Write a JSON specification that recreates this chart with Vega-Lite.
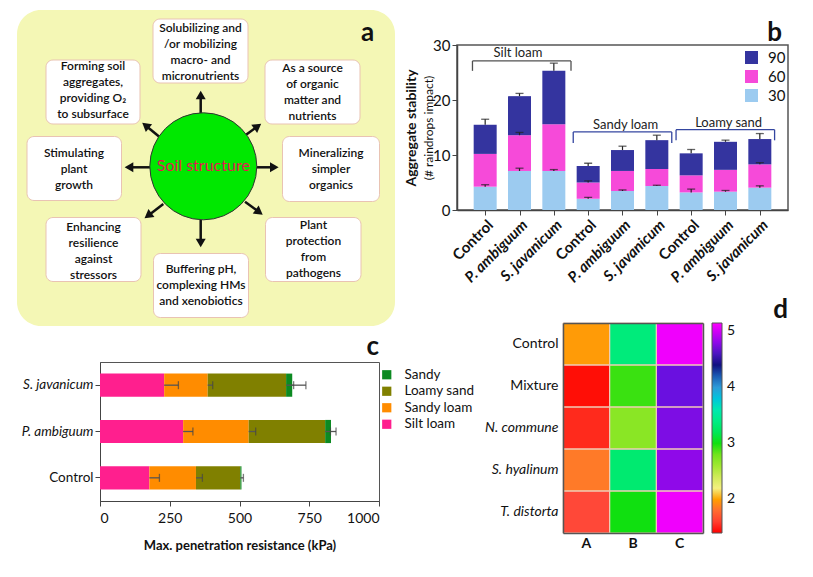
{
  "$schema": "https://vega.github.io/schema/vega-lite/v6.json",
  "background": "white",
  "padding": {"left": 17, "top": 10, "right": 2, "bottom": 2},
  "autosize": {"type": "pad"},
  "config": {
    "font": "Lato",
    "view": {"stroke": null},
    "axis": {"labelColor": "#111", "titleColor": "#111", "domainColor": "#444", "tickColor": "#444", "grid": false},
    "legend": {"labelColor": "#111"}
  },
  "datasets": {
    "apanel": [{"x": 1, "x2": 379, "y": 1, "y2": 317}],
    "aboxes": [
      {"x": 137, "x2": 232, "y": 10, "y2": 74},
      {"x": 30, "x2": 124, "y": 51, "y2": 115},
      {"x": 249, "x2": 344, "y": 51, "y2": 115},
      {"x": 11, "x2": 105.5, "y": 127.5, "y2": 191.5},
      {"x": 266.5, "x2": 363.5, "y": 127.5, "y2": 192.5},
      {"x": 30, "x2": 125, "y": 208.5, "y2": 272.5},
      {"x": 137.5, "x2": 232.5, "y": 244.5, "y2": 308.5},
      {"x": 249.5, "x2": 345, "y": 208.5, "y2": 272.5}
    ],
    "atext": [
      {"x": 184.5, "y": 19.3, "t": "Solubilizing and\n/or mobilizing\nmacro- and\nmicronutrients"},
      {"x": 77, "y": 57, "t": "Forming soil\naggregates,\nproviding O₂\nto subsurface"},
      {"x": 296.5, "y": 59.3, "t": "As a source\nof organic\nmatter and\nnutrients"},
      {"x": 58, "y": 144.3, "t": "Stimulating\nplant\ngrowth"},
      {"x": 315, "y": 143.7, "t": "Mineralizing\nsimpler\norganics"},
      {"x": 77.5, "y": 217.7, "t": "Enhancing\nresilience\nagainst\nstressors"},
      {"x": 185, "y": 260.3, "t": "Buffering pH,\ncomplexing HMs\nand xenobiotics"},
      {"x": 297.5, "y": 216.3, "t": "Plant\nprotection\nfrom\npathogens"}
    ],
    "aarrows": [
      {"x": 184.7, "y": 104, "x2": 184.7, "y2": 86, "ang": 0},
      {"x": 184.7, "y": 211, "x2": 184.7, "y2": 234, "ang": 180},
      {"x": 134, "y": 158.3, "x2": 113, "y2": 158.3, "ang": 270},
      {"x": 240.7, "y": 158.3, "x2": 258.3, "y2": 158.3, "ang": 90},
      {"x": 143.3, "y": 127.7, "x2": 129.6, "y2": 116.5, "ang": 309},
      {"x": 229.7, "y": 126, "x2": 241.7, "y2": 117.3, "ang": 54},
      {"x": 147.3, "y": 195, "x2": 132, "y2": 206.7, "ang": 233},
      {"x": 229, "y": 192.7, "x2": 243.2, "y2": 203.1, "ang": 126}
    ],
    "acircle": [{"x": 187.3, "y": 157.3, "t": "Soil structure"}],
    "aletter": [{"x": 351.5, "y": 32, "t": "a"}],
    "bseg": [
      {"idx": 0, "soil": "Silt loam", "trt": "Control", "t": "30", "lo": 0, "hi": 4.24},
      {"idx": 0, "soil": "Silt loam", "trt": "Control", "t": "60", "lo": 4.24, "hi": 10.2},
      {"idx": 0, "soil": "Silt loam", "trt": "Control", "t": "90", "lo": 10.2, "hi": 15.5},
      {"idx": 1, "soil": "Silt loam", "trt": "P. ambiguum", "t": "30", "lo": 0, "hi": 7.1},
      {"idx": 1, "soil": "Silt loam", "trt": "P. ambiguum", "t": "60", "lo": 7.1, "hi": 13.6},
      {"idx": 1, "soil": "Silt loam", "trt": "P. ambiguum", "t": "90", "lo": 13.6, "hi": 20.7},
      {"idx": 2, "soil": "Silt loam", "trt": "S. javanicum", "t": "30", "lo": 0, "hi": 7.1},
      {"idx": 2, "soil": "Silt loam", "trt": "S. javanicum", "t": "60", "lo": 7.1, "hi": 15.6},
      {"idx": 2, "soil": "Silt loam", "trt": "S. javanicum", "t": "90", "lo": 15.6, "hi": 25.3},
      {"idx": 3, "soil": "Sandy loam", "trt": "Control", "t": "30", "lo": 0, "hi": 2.06},
      {"idx": 3, "soil": "Sandy loam", "trt": "Control", "t": "60", "lo": 2.06, "hi": 5.0},
      {"idx": 3, "soil": "Sandy loam", "trt": "Control", "t": "90", "lo": 5.0, "hi": 8.0},
      {"idx": 4, "soil": "Sandy loam", "trt": "P. ambiguum", "t": "30", "lo": 0, "hi": 3.45},
      {"idx": 4, "soil": "Sandy loam", "trt": "P. ambiguum", "t": "60", "lo": 3.45, "hi": 7.1},
      {"idx": 4, "soil": "Sandy loam", "trt": "P. ambiguum", "t": "90", "lo": 7.1, "hi": 10.9},
      {"idx": 5, "soil": "Sandy loam", "trt": "S. javanicum", "t": "30", "lo": 0, "hi": 4.36},
      {"idx": 5, "soil": "Sandy loam", "trt": "S. javanicum", "t": "60", "lo": 4.36, "hi": 7.45},
      {"idx": 5, "soil": "Sandy loam", "trt": "S. javanicum", "t": "90", "lo": 7.45, "hi": 12.7},
      {"idx": 6, "soil": "Loamy sand", "trt": "Control", "t": "30", "lo": 0, "hi": 3.2},
      {"idx": 6, "soil": "Loamy sand", "trt": "Control", "t": "60", "lo": 3.2, "hi": 6.3},
      {"idx": 6, "soil": "Loamy sand", "trt": "Control", "t": "90", "lo": 6.3, "hi": 10.3},
      {"idx": 7, "soil": "Loamy sand", "trt": "P. ambiguum", "t": "30", "lo": 0, "hi": 3.33},
      {"idx": 7, "soil": "Loamy sand", "trt": "P. ambiguum", "t": "60", "lo": 3.33, "hi": 7.3},
      {"idx": 7, "soil": "Loamy sand", "trt": "P. ambiguum", "t": "90", "lo": 7.3, "hi": 12.4},
      {"idx": 8, "soil": "Loamy sand", "trt": "S. javanicum", "t": "30", "lo": 0, "hi": 4.06},
      {"idx": 8, "soil": "Loamy sand", "trt": "S. javanicum", "t": "60", "lo": 4.06, "hi": 8.3},
      {"idx": 8, "soil": "Loamy sand", "trt": "S. javanicum", "t": "90", "lo": 8.3, "hi": 12.9}
    ],
    "berr": [
      {"idx": 0, "lo": 15.5, "hi": 16.5}, {"idx": 1, "lo": 20.7, "hi": 21.2}, {"idx": 2, "lo": 25.3, "hi": 26.7},
      {"idx": 3, "lo": 8.0, "hi": 8.5}, {"idx": 4, "lo": 10.9, "hi": 11.6}, {"idx": 5, "lo": 12.7, "hi": 13.6},
      {"idx": 6, "lo": 10.3, "hi": 11.0}, {"idx": 7, "lo": 12.4, "hi": 12.7}, {"idx": 8, "lo": 12.9, "hi": 13.9},
      {"idx": 0, "lo": 4.24, "hi": 4.6}, {"idx": 1, "lo": 7.1, "hi": 7.6}, {"idx": 2, "lo": 7.1, "hi": 7.35},
      {"idx": 3, "lo": 2.06, "hi": 2.3}, {"idx": 4, "lo": 3.45, "hi": 3.65}, {"idx": 5, "lo": 4.36, "hi": 4.5},
      {"idx": 6, "lo": 3.2, "hi": 3.8}, {"idx": 7, "lo": 3.33, "hi": 3.55}, {"idx": 8, "lo": 4.06, "hi": 4.4},
      {"idx": 1, "lo": 13.6, "hi": 14.1}, {"idx": 3, "lo": 5.0, "hi": 5.3}, {"idx": 8, "lo": 8.3, "hi": 8.6}
    ],
    "brk": [
      {"g": "Silt loam", "a": -0.37, "b": 2.5, "top": 27.1, "leg": 25.3, "lx": 0.955, "ly": 28.5},
      {"g": "Sandy loam", "a": 2.565, "b": 5.435, "top": 14.2, "leg": 12.2, "lx": 4.09, "ly": 15.4},
      {"g": "Loamy sand", "a": 5.56, "b": 8.43, "top": 14.6, "leg": 12.67, "lx": 7.09, "ly": 15.8}
    ],
    "cseg": [
      {"trt": "S. javanicum", "soil": "Silt loam", "lo": 0, "hi": 230},
      {"trt": "S. javanicum", "soil": "Sandy loam", "lo": 230, "hi": 386},
      {"trt": "S. javanicum", "soil": "Loamy sand", "lo": 386, "hi": 667},
      {"trt": "S. javanicum", "soil": "Sandy", "lo": 667, "hi": 689},
      {"trt": "P. ambiguum", "soil": "Silt loam", "lo": 0, "hi": 298},
      {"trt": "P. ambiguum", "soil": "Sandy loam", "lo": 298, "hi": 533},
      {"trt": "P. ambiguum", "soil": "Loamy sand", "lo": 533, "hi": 807},
      {"trt": "P. ambiguum", "soil": "Sandy", "lo": 807, "hi": 828},
      {"trt": "Control", "soil": "Silt loam", "lo": 0, "hi": 177},
      {"trt": "Control", "soil": "Sandy loam", "lo": 177, "hi": 344},
      {"trt": "Control", "soil": "Loamy sand", "lo": 344, "hi": 503},
      {"trt": "Control", "soil": "Sandy", "lo": 503, "hi": 507}
    ],
    "cerr": [
      {"trt": "S. javanicum", "lo": 230, "hi": 281}, {"trt": "S. javanicum", "lo": 386, "hi": 404},
      {"trt": "S. javanicum", "lo": 667, "hi": 694}, {"trt": "S. javanicum", "lo": 689, "hi": 738},
      {"trt": "P. ambiguum", "lo": 298, "hi": 333}, {"trt": "P. ambiguum", "lo": 533, "hi": 558},
      {"trt": "P. ambiguum", "lo": 807, "hi": 826}, {"trt": "P. ambiguum", "lo": 828, "hi": 846},
      {"trt": "Control", "lo": 177, "hi": 213}, {"trt": "Control", "lo": 344, "hi": 367},
      {"trt": "Control", "lo": 503, "hi": 514}
    ],
    "dheat": [
      {"row": "Control", "col": "A", "v": 1.98}, {"row": "Control", "col": "B", "v": 3.35}, {"row": "Control", "col": "C", "v": 5.1},
      {"row": "Mixture", "col": "A", "v": 1.42}, {"row": "Mixture", "col": "B", "v": 2.95}, {"row": "Mixture", "col": "C", "v": 4.7},
      {"row": "N. commune", "col": "A", "v": 1.5}, {"row": "N. commune", "col": "B", "v": 2.7}, {"row": "N. commune", "col": "C", "v": 4.75},
      {"row": "S. hyalinum", "col": "A", "v": 1.85}, {"row": "S. hyalinum", "col": "B", "v": 3.3}, {"row": "S. hyalinum", "col": "C", "v": 4.8},
      {"row": "T. distorta", "col": "A", "v": 1.65}, {"row": "T. distorta", "col": "B", "v": 3.0}, {"row": "T. distorta", "col": "C", "v": 5.1}
    ]
  },
  "resolve": {"scale": {"color": "independent", "stroke": "independent"}, "legend": {"color": "independent"}},
  "spacing": -31,
  "vconcat": [
    {
      "hconcat": [
        {
          "width": 296,
          "height": 282,
          "layer": [
            {
              "data": {"name": "apanel"},
              "mark": {"type": "rect", "fill": "#f4f7b5", "cornerRadius": 24},
              "encoding": {
                "x": {"field": "x", "type": "quantitative", "scale": {"domain": [84, 380], "nice": false, "zero": false}, "axis": null},
                "x2": {"field": "x2"},
                "y": {"field": "y", "type": "quantitative", "scale": {"domain": [36, 318], "nice": false, "zero": false, "reverse": true}, "axis": null},
                "y2": {"field": "y2"}
              }
            },
            {
              "data": {"name": "aboxes"},
              "mark": {"type": "rect", "fill": "white", "stroke": "#e9c3b3", "strokeWidth": 1, "cornerRadius": 7},
              "encoding": {
                "x": {"field": "x", "type": "quantitative", "scale": {"domain": [84, 380], "nice": false, "zero": false}, "axis": null},
                "x2": {"field": "x2"},
                "y": {"field": "y", "type": "quantitative", "scale": {"domain": [36, 318], "nice": false, "zero": false, "reverse": true}, "axis": null},
                "y2": {"field": "y2"}
              }
            },
            {
              "data": {"name": "aarrows"},
              "mark": {"type": "rule", "color": "#111", "strokeWidth": 2.5},
              "encoding": {
                "x": {"field": "x", "type": "quantitative", "scale": {"domain": [84, 380], "nice": false, "zero": false}, "axis": null},
                "x2": {"field": "x2"},
                "y": {"field": "y", "type": "quantitative", "scale": {"domain": [36, 318], "nice": false, "zero": false, "reverse": true}, "axis": null},
                "y2": {"field": "y2"}
              }
            },
            {
              "data": {"name": "aarrows"},
              "mark": {"type": "point", "shape": "triangle-up", "filled": true, "color": "#111", "size": 100, "opacity": 1},
              "encoding": {
                "x": {"field": "x2", "type": "quantitative", "scale": {"domain": [84, 380], "nice": false, "zero": false}, "axis": null},
                "y": {"field": "y2", "type": "quantitative", "scale": {"domain": [36, 318], "nice": false, "zero": false, "reverse": true}, "axis": null},
                "angle": {"field": "ang", "type": "quantitative", "scale": null}
              }
            },
            {
              "data": {"name": "acircle"},
              "mark": {"type": "point", "shape": "circle", "filled": true, "fill": "#00e800", "stroke": "#333", "strokeWidth": 1, "size": 11449, "opacity": 1},
              "encoding": {
                "x": {"field": "x", "type": "quantitative", "scale": {"domain": [84, 380], "nice": false, "zero": false}, "axis": null},
                "y": {"field": "y", "type": "quantitative", "scale": {"domain": [36, 318], "nice": false, "zero": false, "reverse": true}, "axis": null}
              }
            },
            {
              "data": {"name": "acircle"},
              "mark": {"type": "text", "fontSize": 16, "color": "#e3174f"},
              "encoding": {
                "x": {"field": "x", "type": "quantitative", "scale": {"domain": [84, 380], "nice": false, "zero": false}, "axis": null},
                "y": {"field": "y", "type": "quantitative", "scale": {"domain": [36, 318], "nice": false, "zero": false, "reverse": true}, "axis": null},
                "text": {"field": "t"}
              }
            },
            {
              "data": {"name": "atext"},
              "mark": {"type": "text", "fontSize": 12, "fontWeight": 600, "lineBreak": "\n", "lineHeight": 16, "color": "#111"},
              "encoding": {
                "x": {"field": "x", "type": "quantitative", "scale": {"domain": [84, 380], "nice": false, "zero": false}, "axis": null},
                "y": {"field": "y", "type": "quantitative", "scale": {"domain": [36, 318], "nice": false, "zero": false, "reverse": true}, "axis": null},
                "text": {"field": "t"}
              }
            },
            {
              "data": {"name": "aletter"},
              "mark": {"type": "text", "fontSize": 26, "fontWeight": "bold", "baseline": "alphabetic", "color": "#111"},
              "encoding": {
                "x": {"field": "x", "type": "quantitative", "scale": {"domain": [84, 380], "nice": false, "zero": false}, "axis": null},
                "y": {"field": "y", "type": "quantitative", "scale": {"domain": [36, 318], "nice": false, "zero": false, "reverse": true}, "axis": null},
                "text": {"field": "t"}
              }
            }
          ]
        },
        {
          "width": 331,
          "height": 165,
          "view": {"stroke": "#555", "strokeWidth": 1.5},
          "title": {"text": "b", "anchor": "end", "frame": "group", "fontSize": 26, "fontWeight": "bold", "offset": 2, "dx": -6, "dy": 10, "color": "#111"},
          "layer": [
            {
              "data": {"name": "bseg"},
              "mark": {"type": "bar", "width": 23},
              "encoding": {
                "x": {"field": "idx", "type": "quantitative", "scale": {"domain": [-0.675, 8.675], "nice": false, "zero": false},
                  "axis": {"values": [0, 1, 2, 3, 4, 5, 6, 7, 8], "labelExpr": "['Control','P. ambiguum','S. javanicum'][datum.value % 3]", "labelAngle": -45, "labelFontSize": 15, "labelFontWeight": "bold",
                    "labelFontStyle": {"condition": {"test": "datum.value % 3 != 0", "value": "italic"}, "value": "normal"},
                    "labelOverlap": false, "title": null, "tickSize": 5, "domainWidth": 1.5, "labelPadding": 2}},
                "y": {"field": "lo", "type": "quantitative", "scale": {"domain": [0, 30], "nice": false},
                  "axis": {"values": [0, 10, 20, 30], "title": "Aggregate stability", "titleFontSize": 14, "titleFontWeight": "bold", "titlePadding": 14, "labelFontSize": 15, "tickSize": 5, "domainWidth": 1.5}},
                "y2": {"field": "hi"},
                "color": {"field": "t", "type": "nominal", "scale": {"domain": ["90", "60", "30"], "range": ["#34349f", "#f64ad9", "#9ccbf0"]},
                  "legend": {"orient": "none", "legendX": 287, "legendY": 5, "title": null, "symbolType": "square", "symbolSize": 170, "labelFontSize": 15, "labelOffset": 9, "rowPadding": 3}}
              }
            },
            {
              "data": {"name": "berr"},
              "mark": {"type": "rule", "color": "#222", "strokeWidth": 1.2},
              "encoding": {
                "x": {"field": "idx", "type": "quantitative", "scale": {"domain": [-0.675, 8.675], "nice": false, "zero": false}},
                "y": {"field": "lo", "type": "quantitative", "scale": {"domain": [0, 30], "nice": false},
                  "axis": {"orient": "left", "title": "(# raindrops impact)", "titleFontSize": 12, "titleFontWeight": "normal", "labels": false, "ticks": false, "domain": false, "titlePadding": 22}},
                "y2": {"field": "hi"}
              }
            },
            {
              "data": {"name": "berr"},
              "mark": {"type": "tick", "orient": "horizontal", "color": "#222", "size": 8, "thickness": 1.3},
              "encoding": {
                "x": {"field": "idx", "type": "quantitative", "scale": {"domain": [-0.675, 8.675], "nice": false, "zero": false}},
                "y": {"field": "hi", "type": "quantitative", "scale": {"domain": [0, 30], "nice": false}, "axis": null}
              }
            },
            {
              "data": {"name": "brk"},
              "mark": {"type": "rule", "strokeWidth": 1.3},
              "encoding": {
                "x": {"field": "a", "type": "quantitative", "scale": {"domain": [-0.675, 8.675], "nice": false, "zero": false}},
                "x2": {"field": "b"},
                "y": {"field": "top", "type": "quantitative", "scale": {"domain": [0, 30], "nice": false}, "axis": null},
                "stroke": {"field": "g", "type": "nominal", "scale": {"domain": ["Silt loam", "Sandy loam", "Loamy sand"], "range": ["#505050", "#3446a0", "#3446a0"]}, "legend": null}
              }
            },
            {
              "data": {"name": "brk"},
              "mark": {"type": "rule", "strokeWidth": 1.3},
              "encoding": {
                "x": {"field": "a", "type": "quantitative", "scale": {"domain": [-0.675, 8.675], "nice": false, "zero": false}},
                "y": {"field": "top", "type": "quantitative", "scale": {"domain": [0, 30], "nice": false}, "axis": null},
                "y2": {"field": "leg"},
                "stroke": {"field": "g", "type": "nominal", "legend": null}
              }
            },
            {
              "data": {"name": "brk"},
              "mark": {"type": "rule", "strokeWidth": 1.3},
              "encoding": {
                "x": {"field": "b", "type": "quantitative", "scale": {"domain": [-0.675, 8.675], "nice": false, "zero": false}},
                "y": {"field": "top", "type": "quantitative", "scale": {"domain": [0, 30], "nice": false}, "axis": null},
                "y2": {"field": "leg"},
                "stroke": {"field": "g", "type": "nominal", "legend": null}
              }
            },
            {
              "data": {"name": "brk"},
              "mark": {"type": "text", "fontSize": 13, "color": "#222"},
              "encoding": {
                "x": {"field": "lx", "type": "quantitative", "scale": {"domain": [-0.675, 8.675], "nice": false, "zero": false}},
                "y": {"field": "ly", "type": "quantitative", "scale": {"domain": [0, 30], "nice": false}, "axis": null},
                "text": {"field": "g"}
              }
            }
          ],
          "resolve": {"axis": {"y": "independent"}}
        }
      ],
      "spacing": 7,
      "resolve": {"scale": {"color": "independent", "stroke": "independent"}, "legend": {"color": "independent"}}
    },
    {
      "hconcat": [
        {
          "width": 279,
          "height": 139,
          "view": {"stroke": "#555", "strokeWidth": 1},
          "title": {"text": "c", "anchor": "end", "frame": "group", "fontSize": 26, "fontWeight": "bold", "offset": 4, "dy": 2, "color": "#111"},
          "layer": [
            {
              "data": {"name": "cseg"},
              "mark": {"type": "bar"},
              "encoding": {
                "y": {"field": "trt", "type": "nominal", "scale": {"domain": ["S. javanicum", "P. ambiguum", "Control"], "paddingInner": 0.5, "paddingOuter": 0.25},
                  "axis": {"title": null, "labelFontSize": 13.5, "labelFontStyle": {"condition": {"test": "datum.value != 'Control'", "value": "italic"}, "value": "normal"}, "tickSize": 5, "labelPadding": 2}},
                "x": {"field": "lo", "type": "quantitative", "scale": {"domain": [0, 1000], "nice": false},
                  "axis": {"values": [0, 250, 500, 750, 1000], "format": "d", "title": "Max. penetration resistance (kPa)", "titleFontSize": 13, "titleFontWeight": "bold", "titlePadding": 14, "labelFontSize": 14, "labelPadding": 5, "tickSize": 5}},
                "x2": {"field": "hi"},
                "color": {"field": "soil", "type": "nominal", "scale": {"domain": ["Sandy", "Loamy sand", "Sandy loam", "Silt loam"], "range": ["#0c8a22", "#808000", "#ff8c00", "#ff1f8e"]},
                  "legend": {"orient": "none", "legendX": 280, "legendY": 6, "title": null, "symbolType": "square", "symbolSize": 85, "labelFontSize": 13.5, "labelOffset": 11, "rowPadding": 1.5}}
              }
            },
            {
              "data": {"name": "cerr"},
              "mark": {"type": "rule", "color": "#555", "strokeWidth": 1.3},
              "encoding": {
                "y": {"field": "trt", "type": "nominal"},
                "x": {"field": "lo", "type": "quantitative", "scale": {"domain": [0, 1000], "nice": false}},
                "x2": {"field": "hi"}
              }
            },
            {
              "data": {"name": "cerr"},
              "mark": {"type": "tick", "orient": "vertical", "color": "#444", "size": 8, "thickness": 1.3},
              "encoding": {
                "y": {"field": "trt", "type": "nominal"},
                "x": {"field": "hi", "type": "quantitative", "scale": {"domain": [0, 1000], "nice": false}}
              }
            }
          ]
        },
        {
          "width": 140,
          "height": 171,
          "title": {"text": "d", "anchor": "end", "frame": "group", "fontSize": 26, "fontWeight": "bold", "offset": 2, "dx": 85, "dy": 2, "color": "#111"},
          "layer": [
            {
              "data": {"name": "dheat"},
              "mark": {"type": "rect"},
              "encoding": {
                "x": {"field": "col", "type": "nominal", "scale": {"domain": ["A", "B", "C"], "paddingInner": 0, "paddingOuter": 0},
                  "axis": {"orient": "bottom", "title": null, "labelAngle": 0, "labelFontSize": 14, "labelFontWeight": "bold", "ticks": false, "labelPadding": 3, "domainColor": "#555", "domainWidth": 1.5}},
                "y": {"field": "row", "type": "nominal", "scale": {"domain": ["Control", "Mixture", "N. commune", "S. hyalinum", "T. distorta"], "range": [-39, 171], "paddingInner": 0, "paddingOuter": 0},
                  "axis": {"orient": "left", "title": null, "labelFontSize": 14, "ticks": false, "labelPadding": 5, "domainColor": "#555", "domainWidth": 1.5,
                    "labelFontStyle": {"condition": {"test": "datum.value != 'Control' && datum.value != 'Mixture'", "value": "italic"}, "value": "normal"}}},
                "color": {"field": "v", "type": "quantitative",
                  "scale": {"type": "linear", "domain": [1.4, 1.7, 2.0, 2.2, 2.6, 3.0, 3.55, 4.05, 4.4, 4.7, 5.15],
                    "range": ["#ff0000", "#ff5040", "#ffa000", "#f4f080", "#a0e830", "#10e010", "#20f0a0", "#4a90d0", "#101080", "#6a10e0", "#ff00ff"]},
                  "legend": {"orient": "none", "legendX": 149, "legendY": -39, "direction": "vertical", "gradientLength": 210, "gradientThickness": 10, "title": null, "values": [2, 3, 4, 5], "labelFontSize": 14, "gradientStrokeColor": "#555", "gradientStrokeWidth": 1, "labelOffset": 5}}
              }
            },
            {
              "data": {"name": "dheat"},
              "mark": {"type": "rect", "fillOpacity": 0, "stroke": "#f0ccb6", "strokeWidth": 1},
              "encoding": {
                "x": {"field": "col", "type": "nominal", "axis": {"orient": "top", "offset": 39, "labels": false, "ticks": false, "title": null, "domainColor": "#555", "domainWidth": 1.5}},
                "y": {"field": "row", "type": "nominal", "axis": {"orient": "right", "labels": false, "ticks": false, "title": null, "domainColor": "#555", "domainWidth": 1.5}}
              }
            }
          ],
          "resolve": {"axis": {"x": "independent", "y": "independent"}}
        }
      ],
      "spacing": 8,
      "resolve": {"scale": {"color": "independent", "stroke": "independent"}, "legend": {"color": "independent"}}
    }
  ]
}
